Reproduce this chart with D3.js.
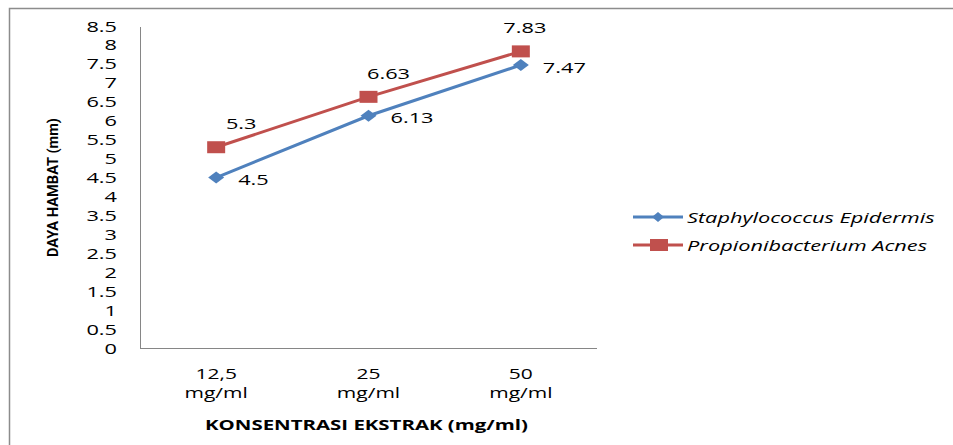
<!DOCTYPE html>
<html>
<head>
<meta charset="utf-8">
<script src="https://cdn.jsdelivr.net/npm/d3@7"></script>
<style>
  body { margin: 0; background: #fff; }
  svg { display: block; }
</style>
</head>
<body>
<div id="chart"></div>
<script>
// Data
const categories = ["12,5", "25", "50"];
const categoryUnit = "mg/ml";
const staphValues = [4.5, 6.13, 7.47];
const propValues = [5.3, 6.63, 7.83];
const yTicks = d3.range(0, 8.51, 0.5);
const seriesNames = ["Staphylococcus Epidermis", "Propionibacterium Acnes"];

const width = 953, height = 445;
const blue = "#4f81bd", red = "#c0504d";
const font = "'Open Sans', sans-serif";
const SX = 1.45; // the original picture is stretched horizontally

// manual label nudges (like the hand-placed labels in the source chart)
const propLabelDx = [25, 20, 4];

const svg = d3.select("#chart").append("svg")
    .attr("width", width)
    .attr("height", height);

// helper: horizontally stretched text
function sText(parent, x, y, txt, size, anchor) {
    return parent.append("text")
        .attr("transform", `translate(${x},${y}) scale(${SX},1)`)
        .attr("text-anchor", anchor || "start")
        .attr("font-family", font)
        .attr("font-size", size + "px")
        .attr("fill", "#000")
        .text(txt);
}

// outer frame (only top and left visible)
svg.append("path")
    .attr("d", `M9.5,${height} L9.5,8.5 L${width},8.5`)
    .attr("fill", "none")
    .attr("stroke", "#8c8c8c")
    .attr("stroke-width", 1.5);

const plot = { left: 140, right: 597, top: 26, bottom: 348 };

const x = d3.scaleBand()
    .domain(categories)
    .range([plot.left, plot.right]);

const y = d3.scaleLinear()
    .domain([0, 8.5])
    .range([plot.bottom, plot.top]);

// axes lines
svg.append("line")
    .attr("x1", plot.left + 0.5).attr("x2", plot.left + 0.5)
    .attr("y1", plot.top + 1).attr("y2", plot.bottom)
    .attr("stroke", "#868686");
svg.append("line")
    .attr("x1", plot.left).attr("x2", plot.right)
    .attr("y1", plot.bottom + 0.5).attr("y2", plot.bottom + 0.5)
    .attr("stroke", "#868686");

// y tick labels
const gy = svg.append("g");
yTicks.forEach(t => {
    sText(gy, 117, y(t) + 5.5, t, 15, "end");
});

// x category labels
const gx = svg.append("g");
categories.forEach(c => {
    const cxv = x(c) + x.bandwidth() / 2;
    sText(gx, cxv, 379, c, 14.5, "middle");
    sText(gx, cxv, 398, categoryUnit, 14.5, "middle");
});

// axis titles
svg.append("text")
    .attr("x", 205)
    .attr("y", 430)
    .attr("textLength", 323)
    .attr("lengthAdjust", "spacingAndGlyphs")
    .attr("font-family", font)
    .attr("font-weight", "bold")
    .attr("font-size", "15px")
    .text("KONSENTRASI EKSTRAK (mg/ml)");

svg.append("text")
    .attr("transform", "translate(58,257) rotate(-90)")
    .attr("x", 0)
    .attr("y", 0)
    .attr("textLength", 139)
    .attr("lengthAdjust", "spacingAndGlyphs")
    .attr("font-family", "'Liberation Sans Narrow', 'Roboto', sans-serif")
    .attr("font-weight", "bold")
    .attr("font-size", "14px")
    .text("DAYA HAMBAT (mm)");

const cx = i => x(categories[i]) + x.bandwidth() / 2;
const line = d3.line()
    .x((d, i) => cx(i))
    .y(d => y(d));

const diamond = (w, h) => `M0,${-h / 2}L${w / 2},0L0,${h / 2}L${-w / 2},0Z`;

// Staphylococcus (blue, diamonds)
svg.append("path")
    .datum(staphValues)
    .attr("d", line)
    .attr("fill", "none")
    .attr("stroke", blue)
    .attr("stroke-width", 3);

svg.append("g").selectAll("path")
    .data(staphValues)
    .enter()
    .append("path")
    .attr("d", diamond(16, 12))
    .attr("transform", (d, i) => `translate(${cx(i)},${y(d)})`)
    .attr("fill", blue);

// Propionibacterium (red, squares)
svg.append("path")
    .datum(propValues)
    .attr("d", line)
    .attr("fill", "none")
    .attr("stroke", red)
    .attr("stroke-width", 3);

svg.append("g").selectAll("rect")
    .data(propValues)
    .enter()
    .append("rect")
    .attr("x", (d, i) => cx(i) - 9)
    .attr("y", d => y(d) - 6)
    .attr("width", 18)
    .attr("height", 12)
    .attr("fill", red);

// data labels
const gl = svg.append("g");
staphValues.forEach((v, i) => {
    sText(gl, cx(i) + 22, y(v) + 7.5, v, 15, "start");
});
propValues.forEach((v, i) => {
    sText(gl, cx(i) + propLabelDx[i], y(v) - 18, v, 15, "middle");
});

// legend
const legend = svg.append("g").attr("transform", "translate(633,217)");
[blue, red].forEach((c, i) => {
    const g = legend.append("g").attr("transform", `translate(0,${i * 28})`);
    g.append("line")
        .attr("x1", 0).attr("x2", 50)
        .attr("stroke", c)
        .attr("stroke-width", 3);
    if (i === 0) {
        g.append("path")
            .attr("d", diamond(12, 10))
            .attr("transform", "translate(25,0)")
            .attr("fill", c);
    } else {
        g.append("rect")
            .attr("x", 17).attr("y", -6)
            .attr("width", 18).attr("height", 12)
            .attr("fill", c);
    }
    sText(g, 54, 5.5, seriesNames[i], 15, "start")
        .attr("font-style", "italic");
});
</script>
</body>
</html>
